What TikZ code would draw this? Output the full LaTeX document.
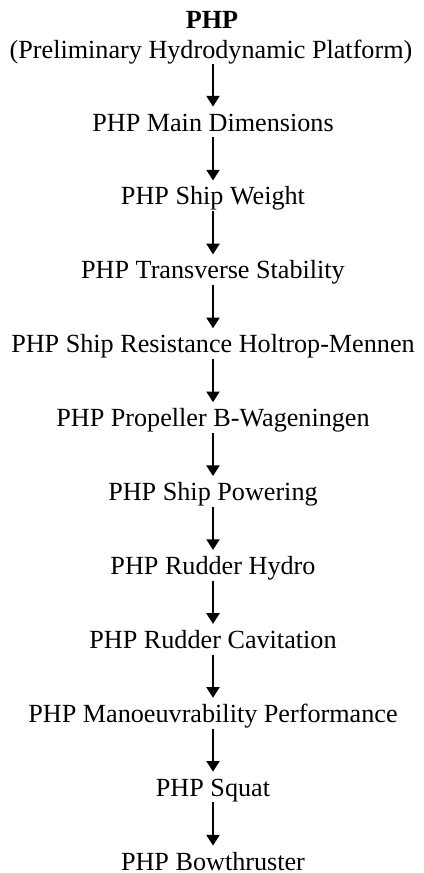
\documentclass[tikz,border=0pt]{standalone}
\usepackage{fontspec}
\setmainfont{Liberation Serif}
\usetikzlibrary{arrows.meta}

\begin{document}
\begin{tikzpicture}[x=0.47pt,y=0.47pt,font=\fontsize{12.3}{14}\selectfont,
    >={Triangle[width=6.2pt,length=5pt]},
    module/.style={anchor=base,inner sep=0pt,text height=11.3pt,text depth=2.8pt},
    flow/.style={->,line width=0.7pt}]
  \useasboundingbox (0,0) rectangle (423,-873);

  % Title of the platform.
  \node[module,font=\fontsize{12.3}{14}\selectfont\bfseries] (php) at (212,-28) {PHP};
  \node[module] (full) at (211,-58) {(Preliminary Hydrodynamic Platform)};

  % Calculation modules, one per row.
  \foreach \i/\txt in {1/Main Dimensions,2/Ship Weight,3/Transverse Stability,
      4/Ship Resistance Holtrop-Mennen,5/Propeller B-Wageningen,6/Ship Powering,
      7/Rudder Hydro,8/Rudder Cavitation,9/Manoeuvrability Performance,
      10/Squat,11/Bowthruster}
    \node[module] (m\i) at (213,{-131-(\i-1)*73.9}) {PHP \txt};

  % Arrows down the sequence.
  \draw[flow] (full.south -| m1) -- (m1.north);
  \foreach \i [count=\j from 2] in {1,...,10}
    \draw[flow] (m\i.south) -- (m\j.north);
\end{tikzpicture}
\end{document}
